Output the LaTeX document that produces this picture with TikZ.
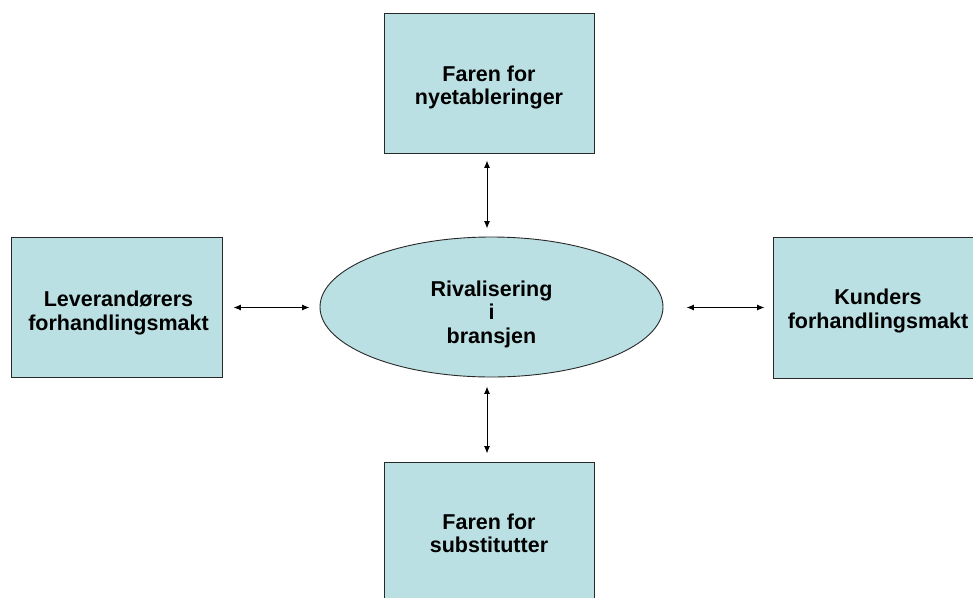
\documentclass[tikz,border=0pt]{standalone}
\usepackage{fontspec}
\setmainfont{Liberation Sans}
\usetikzlibrary{shapes.geometric,arrows.meta}
\definecolor{boxfill}{RGB}{187,224,227}
\definecolor{boxline}{RGB}{40,40,40}
\tikzset{
  force/.style={rectangle, draw=boxline, line width=0.9pt, fill=boxfill, inner sep=0pt},
  rival/.style={ellipse, draw=boxline, line width=0.9pt, fill=boxfill, inner sep=0pt,
    minimum width=343pt, minimum height=140pt},
  txt/.style={inner sep=0pt, align=center, font=\fontsize{21.5}{23.5}\selectfont\bfseries},
  arr/.style={{Latex[length=7.5pt,width=6pt]}-{Latex[length=7.5pt,width=6pt]}, line width=1pt, black}
}
\begin{document}
\begin{tikzpicture}[x=1pt,y=-1pt]
\useasboundingbox (0,0) rectangle (973,597);
\clip (0,0) rectangle (973,597);
\fill[white] (0,0) rectangle (973,597);
\node[force, minimum width=210pt, minimum height=140pt] (top) at (489,83) {};
\node[force, minimum width=211pt, minimum height=140pt] (left) at (116.5,307.5) {};
\node[force, minimum width=210pt, minimum height=141pt] (right) at (878,307.5) {};
\node[force, minimum width=210pt, minimum height=140pt] (bot) at (489,532) {};
\node[rival] (ell) at (491.5,307) {};
\node[txt] (toptext) at ([yshift=-4.5pt]top.center) {Faren for\\nyetableringer};
\node[txt] (lefttext) at ([yshift=-5.5pt,xshift=2pt]left.center) {Leverandørers\\forhandlingsmakt};
\node[txt] (righttext) at ([yshift=-3.5pt]right.center) {Kunders\\forhandlingsmakt};
\node[txt] (bottext) at ([yshift=-1.5pt]bot.center) {Faren for\\substitutter};
\node[txt] (elltext) at ([yshift=-7pt]ell.center) {Rivalisering\\i\\bransjen};
\draw[arr, shorten <=7pt, shorten >=8pt] ([xshift=-2pt]top.south) -- ([xshift=-2pt]top.south |- ell.north);
\draw[arr, shorten <=9pt, shorten >=8pt] ([xshift=-2pt]bot.north |- ell.south) -- ([xshift=-2pt]bot.north);
\draw[arr, shorten <=11pt, shorten >=10pt] (left.east) -- (left.east -| ell.west);
\draw[arr, shorten <=23pt, shorten >=8pt] (right.west -| ell.east) -- (right.west);
\end{tikzpicture}
\end{document}
